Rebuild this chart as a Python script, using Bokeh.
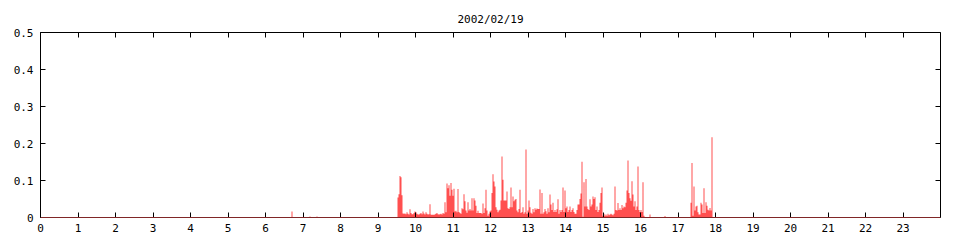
from bokeh.plotting import figure
from bokeh.models import Range1d, FixedTicker, LinearAxis, Span, ColumnDataSource
from bokeh.embed import file_html
from bokeh.resources import INLINE

# ---- data -------------------------------------------------------------
title_text = "2002/02/19"
bin_minutes = 1.6                      # width of one sample bin, minutes

# start of each burst (minutes after midnight)
burst_start_min = [571.2, 1040.0]

burst1_values = [
    0.054, 0.063, 0.112, 0.109, 0.060, 0.011, 0.010, 0.011, 0.009, 0.014,
    0.010, 0.008, 0.022, 0.012, 0.009, 0.009, 0.012, 0.016, 0.014, 0.010,
    0.008, 0.008, 0.010, 0.012, 0.009, 0.016, 0.011, 0.008, 0.014, 0.010,
    0.008, 0.009, 0.036, 0.008, 0.007, 0.008, 0.007, 0.009, 0.010, 0.012,
    0.009, 0.008, 0.009, 0.010, 0.008, 0.012, 0.010, 0.041, 0.014, 0.092,
    0.079, 0.087, 0.059, 0.093, 0.075, 0.059, 0.078, 0.016, 0.018, 0.014,
    0.077, 0.015, 0.012, 0.010, 0.025, 0.022, 0.063, 0.044, 0.019, 0.013,
    0.041, 0.019, 0.023, 0.019, 0.052, 0.019, 0.052, 0.046, 0.032, 0.012,
    0.018, 0.012, 0.012, 0.012, 0.010, 0.038, 0.012, 0.025, 0.075, 0.019,
    0.005, 0.010, 0.016, 0.019, 0.066, 0.117, 0.097, 0.084, 0.028, 0.021,
    0.014, 0.019, 0.021, 0.046, 0.165, 0.102, 0.046, 0.046, 0.046, 0.070,
    0.025, 0.023, 0.028, 0.081, 0.028, 0.057, 0.044, 0.048, 0.050, 0.019,
    0.014, 0.023, 0.075, 0.012, 0.015, 0.028, 0.010, 0.014, 0.184, 0.010,
    0.019, 0.046, 0.028, 0.013, 0.010, 0.023, 0.014, 0.025, 0.021, 0.024,
    0.023, 0.023, 0.076, 0.010, 0.066, 0.010, 0.014, 0.023, 0.017, 0.010,
    0.025, 0.014, 0.062, 0.035, 0.020, 0.040, 0.015, 0.020, 0.015, 0.022,
    0.049, 0.010, 0.020, 0.015, 0.020, 0.081, 0.015, 0.073, 0.025, 0.030,
    0.015, 0.020, 0.030, 0.015, 0.020, 0.025, 0.015, 0.010, 0.010, 0.020,
    0.035, 0.035, 0.050, 0.065, 0.151, 0.002, 0.095, 0.030, 0.104, 0.030,
    0.023, 0.020, 0.049, 0.030, 0.035, 0.057, 0.050, 0.055, 0.020, 0.030,
    0.015, 0.020, 0.040, 0.066, 0.081, 0.005, 0.010, 0.005, 0.008, 0.005,
    0.010, 0.006, 0.008, 0.010, 0.008, 0.006, 0.010, 0.084, 0.020, 0.019,
    0.039, 0.020, 0.025, 0.020, 0.034, 0.025, 0.030, 0.028, 0.040, 0.073,
    0.154, 0.066, 0.052, 0.045, 0.098, 0.062, 0.030, 0.044, 0.020, 0.030,
    0.138, 0.020, 0.015, 0.020, 0.015, 0.095, 0.005,
]

burst2_values = [
    0.040, 0.147, 0.005, 0.084, 0.019, 0.030, 0.032, 0.014, 0.008, 0.008,
    0.040, 0.035, 0.012, 0.079, 0.012, 0.041, 0.032, 0.021, 0.019, 0.026,
    0.019, 0.217,
]

# isolated small samples (minutes after midnight, value)
isolated_min = [401.6, 430.4, 441.6, 974.4, 998.4]
isolated_val = [0.016, 0.003, 0.003, 0.008, 0.004]

x_ticks = list(range(0, 24))
y_ticks = [0, 0.1, 0.2, 0.3, 0.4, 0.5]
y_labels = ["0", "0.1", "0.2", "0.3", "0.4", "0.5"]

# ---- figure -----------------------------------------------------------
FONT = "DejaVu Sans Mono"
RED = "#ff4f4f"

p = figure(width=960, height=240, output_backend="svg", toolbar_location=None,
           x_range=Range1d(0, 24), y_range=Range1d(0, 0.5),
           min_border_left=40, min_border_right=20, min_border_top=32,
           min_border_bottom=23, background_fill_color="white",
           border_fill_color="white", outline_line_color=None)

p.title.text = title_text
p.title.align = "center"
p.title.vertical_align = "top"
p.title.text_font = FONT
p.title.text_font_size = "11px"
p.title.text_font_style = "normal"
p.title.text_color = "black"

p.grid.visible = False

# bursts: one solid stepped area per burst (no seams between bins)
for start, vals in zip(burst_start_min, [burst1_values, burst2_values]):
    xs = [(start + i * bin_minutes) / 60.0 for i in range(len(vals) + 1)]
    ys = list(vals) + [vals[-1]]
    p.varea_step(x=xs, y1=[0.0] * len(xs), y2=ys, step_mode="after",
                 fill_color=RED)

# isolated samples
iso = ColumnDataSource(dict(
    left=[m / 60.0 for m in isolated_min],
    right=[(m + bin_minutes) / 60.0 for m in isolated_min],
    top=isolated_val, bottom=[0.0] * len(isolated_val)))
p.quad(left="left", right="right", top="top", bottom="bottom", source=iso,
       fill_color=RED, line_color=None)

def style_axis(ax):
    ax.major_tick_in = 5
    ax.major_tick_out = 0
    ax.minor_tick_line_color = None
    ax.axis_line_color = "black"
    ax.major_tick_line_color = "black"
    ax.major_label_text_font = FONT
    ax.major_label_text_font_size = "11px"
    ax.major_label_text_color = "black"

xa = p.xaxis[0]
xa.ticker = FixedTicker(ticks=x_ticks)
xa.major_label_standoff = 6
style_axis(xa)

ya = p.yaxis[0]
ya.ticker = FixedTicker(ticks=y_ticks)
ya.major_label_overrides = {t: l for t, l in zip(y_ticks, y_labels)}
ya.major_label_standoff = 7
style_axis(ya)

top_ax = LinearAxis(ticker=FixedTicker(ticks=x_ticks),
                    major_label_overrides={t: "" for t in x_ticks},
                    major_label_standoff=0)
style_axis(top_ax)
p.add_layout(top_ax, "above")

right_ax = LinearAxis(ticker=FixedTicker(ticks=y_ticks),
                      major_label_overrides={t: "" for t in y_ticks},
                      major_label_standoff=0)
style_axis(right_ax)
p.add_layout(right_ax, "right")

p.add_layout(Span(location=0, dimension="width", line_color=RED,
                  line_width=1, level="overlay"))

open("out.html", "w").write(file_html(p, INLINE))
